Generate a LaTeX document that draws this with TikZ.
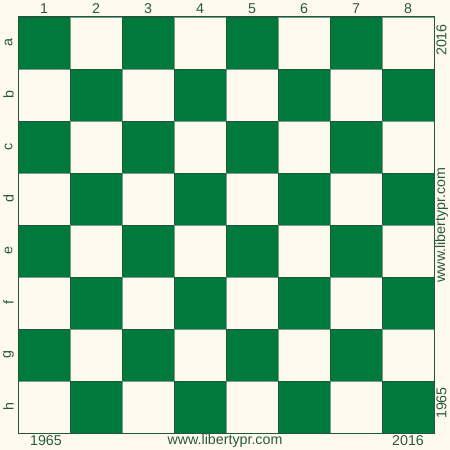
\documentclass[tikz,border=0pt]{standalone}
\usepackage{fontspec}
\setmainfont{Liberation Sans}
\definecolor{boardgreen}{HTML}{00793D}
\definecolor{boardedge}{HTML}{1E5A3A}
\definecolor{boardcream}{HTML}{FFFAEE}
\definecolor{labelgreen}{HTML}{285A3C}

\tikzset{
    darksq/.style={fill=boardgreen, draw=boardedge, line width=0.8bp},
    lightsq/.style={fill=boardcream, draw=boardedge!60, line width=0.5bp},
    coord/.style={text=labelgreen, inner sep=0pt, font=\fontsize{14.3}{16}\selectfont},
    sidecoord/.style={coord, rotate=90}
}

\begin{document}
\begin{tikzpicture}[x=1bp, y=-1bp]

% ===== background =====
\fill[boardcream] (0,0) rectangle (450,450);
\useasboundingbox (0,0) rectangle (450,450);

% ===== squares =====
\foreach \r in {0,...,7} {
    \foreach \c in {0,...,7} {
        \pgfmathtruncatemacro{\parity}{mod(\r+\c,2)}
        \ifnum\parity=0
            \draw[darksq] (18+52*\c,17+52*\r) rectangle ++(52,52);
        \else
            \draw[lightsq] (18+52*\c,17+52*\r) rectangle ++(52,52);
        \fi
    }
}
\draw[boardedge, line width=1bp] (18,17) rectangle (434,433);

% ===== file numbers =====
\foreach \c in {1,...,8}
    \node[coord] (col\c) at (18+52*\c-26,9) {\c};

% ===== rank letters =====
\foreach \l [count=\r] in {a,b,c,d,e,f,g,h}
    \node[sidecoord] (row\l) at (8.5,17+52*\r-26) {\l};

% ===== bottom line =====
\node[coord] (yearfrom) at (46,441) {1965};
\node[coord] (site)     at (225,441) {www.libertypr.com};
\node[coord] (yearto)   at (408,441) {2016};

% ===== right side =====
\node[sidecoord] (sideto)   at (441.5,40)  {2016};
\node[sidecoord] (sidesite) at (441.5,225) {www.libertypr.com};
\node[sidecoord] (sidefrom) at (441.5,403) {1965};

\end{tikzpicture}
\end{document}
